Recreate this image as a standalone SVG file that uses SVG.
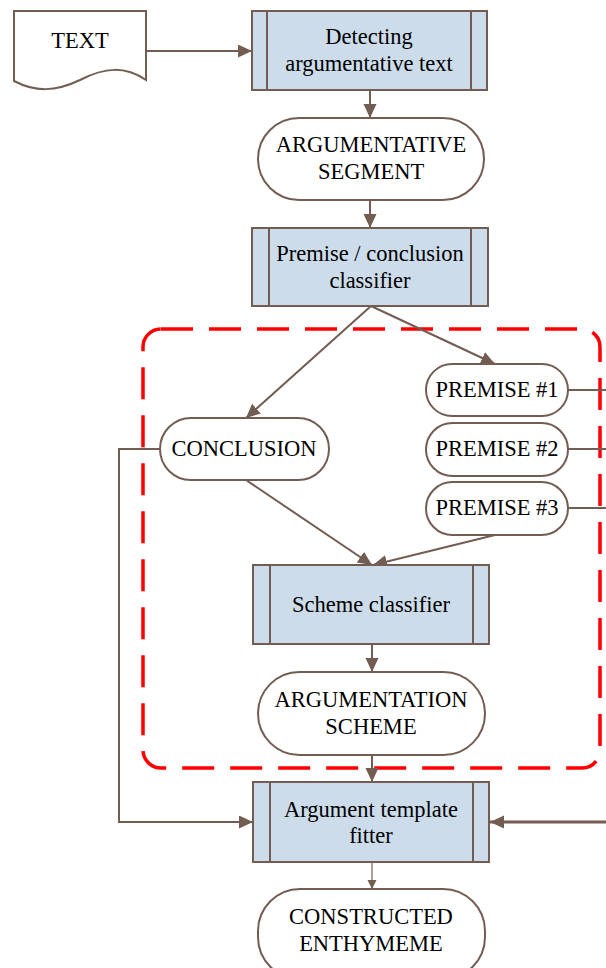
<svg xmlns="http://www.w3.org/2000/svg" width="606" height="968" viewBox="0 0 606 968">
<style>
.s{fill:#fff;stroke:#735c52;stroke-width:2}
.p{fill:#ccdcea;stroke:#735c52;stroke-width:2}
.l{fill:none;stroke:#735c52;stroke-width:2}
.t{font-family:"Liberation Serif","Times New Roman",serif;font-size:22.5px;fill:#000;text-anchor:middle}
</style>
<defs>
<marker id="a" markerUnits="userSpaceOnUse" markerWidth="16" markerHeight="14" refX="14" refY="6.5" orient="auto"><path d="M0,0 L14,6.5 L0,13 Z" fill="#735c52"/></marker>
<marker id="b" markerUnits="userSpaceOnUse" markerWidth="12" markerHeight="10" refX="9" refY="4.5" orient="auto"><path d="M0,0 L9,4.5 L0,9 Z" fill="#735c52"/></marker>
</defs>
<rect x="143" y="329" width="457" height="439" rx="18" fill="none" stroke="#ff0000" stroke-width="3.5" stroke-dasharray="32,16"/>
<g id="connectors">
<line class="l" x1="146" y1="51" x2="252" y2="51" marker-end="url(#a)"/>
<line class="l" x1="370" y1="90" x2="370" y2="118" marker-end="url(#a)"/>
<line class="l" x1="370" y1="200" x2="370" y2="228" marker-end="url(#a)"/>
<line class="l" x1="371" y1="306" x2="246" y2="418" marker-end="url(#a)"/>
<line class="l" x1="371" y1="306" x2="495" y2="364" marker-end="url(#a)"/>
<line class="l" x1="246" y1="480" x2="372" y2="565" marker-end="url(#a)"/>
<line class="l" x1="495" y1="535" x2="373" y2="565" marker-end="url(#a)"/>
<line class="l" x1="372" y1="644" x2="372" y2="672" marker-end="url(#a)"/>
<line class="l" x1="372" y1="755" x2="372" y2="782" marker-end="url(#a)"/>
<polyline class="l" points="160,449 119,449 119,822 253,822" marker-end="url(#a)"/>
<line class="l" x1="606" y1="822" x2="490" y2="822" style="stroke-width:3" marker-end="url(#a)"/>
<line class="l" x1="568" y1="390" x2="606" y2="390"/>
<line class="l" x1="568" y1="449" x2="606" y2="449"/>
<line class="l" x1="568" y1="508" x2="606" y2="508"/>
<line class="l" x1="372" y1="862" x2="372" y2="889" style="stroke-width:1.2" marker-end="url(#b)"/>
</g>
<g id="text-doc">
<path class="s" d="M14,11 H146 V80 C125,66 105,67 80,80 C55,92 35,92 14,81 Z"/>
<text class="t" x="80" y="48">TEXT</text>
</g>
<g id="detecting">
<rect class="p" x="252" y="11" width="235" height="79"/>
<line class="l" x1="267" y1="11" x2="267" y2="90"/>
<line class="l" x1="471" y1="11" x2="471" y2="90"/>
<text class="t" x="369" y="44">Detecting</text>
<text class="t" x="369" y="71">argumentative text</text>
</g>
<g id="arg-segment">
<rect class="s" x="258" y="118" width="226" height="82" rx="41"/>
<text class="t" x="371" y="152">ARGUMENTATIVE</text>
<text class="t" x="371" y="179">SEGMENT</text>
</g>
<g id="pc-classifier">
<rect class="p" x="252" y="228" width="236" height="78"/>
<line class="l" x1="269" y1="228" x2="269" y2="306"/>
<line class="l" x1="471" y1="228" x2="471" y2="306"/>
<text class="t" x="370" y="261">Premise / conclusion</text>
<text class="t" x="370" y="288">classifier</text>
</g>
<g id="conclusion">
<rect class="s" x="160" y="418" width="169" height="62" rx="31"/>
<text class="t" x="244" y="456">CONCLUSION</text>
</g>
<g id="premise1">
<rect class="s" x="426" y="364" width="142" height="52" rx="26"/>
<text class="t" x="497" y="397">PREMISE #1</text>
</g>
<g id="premise2">
<rect class="s" x="426" y="423" width="142" height="53" rx="26.5"/>
<text class="t" x="497" y="456">PREMISE #2</text>
</g>
<g id="premise3">
<rect class="s" x="426" y="482" width="142" height="53" rx="26.5"/>
<text class="t" x="497" y="515">PREMISE #3</text>
</g>
<g id="scheme-classifier">
<rect class="p" x="253" y="565" width="236" height="79"/>
<line class="l" x1="270" y1="565" x2="270" y2="644"/>
<line class="l" x1="473" y1="565" x2="473" y2="644"/>
<text class="t" x="371" y="612">Scheme classifier</text>
</g>
<g id="arg-scheme">
<rect class="s" x="258" y="672" width="227" height="83" rx="41.5"/>
<text class="t" x="371" y="707">ARGUMENTATION</text>
<text class="t" x="371" y="734">SCHEME</text>
</g>
<g id="template-fitter">
<rect class="p" x="253" y="782" width="236" height="80"/>
<line class="l" x1="270" y1="782" x2="270" y2="862"/>
<line class="l" x1="473" y1="782" x2="473" y2="862"/>
<text class="t" x="371" y="817">Argument template</text>
<text class="t" x="371" y="843">fitter</text>
</g>
<g id="enthymeme">
<rect class="s" x="258" y="889" width="227" height="90" rx="42"/>
<text class="t" x="371" y="924">CONSTRUCTED</text>
<text class="t" x="371" y="951">ENTHYMEME</text>
</g>
</svg>
